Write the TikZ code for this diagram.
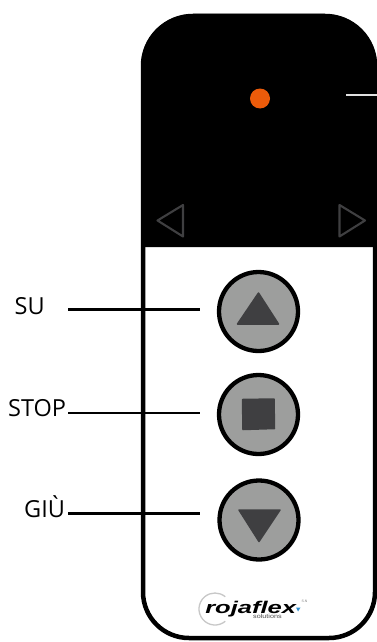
\documentclass[tikz,border=0pt]{standalone}
\usepackage{fontspec}
\setmainfont{Open Sans}
\newfontfamily\logofont{Liberation Sans}
\usetikzlibrary{positioning}
\definecolor{btngray}{HTML}{9D9E9D}
\definecolor{icondark}{HTML}{3F3F41}
\definecolor{ledorange}{HTML}{EC5B0A}
\definecolor{logoblue}{HTML}{2E8FD0}
\tikzset{
  btn/.style={circle, draw=black, line width=4.3pt, fill=btngray, minimum size=79pt, inner sep=0pt},
  lbl/.style={inner sep=0pt, font=\fontsize{23.5}{24}\selectfont},
  leader/.style={line width=2.4pt, black},
  icon/.style={fill=icondark, draw=icondark, line width=1.5pt, line join=round},
  arrowkey/.style={draw=icondark, line width=2.1pt, line join=round}
}
\begin{document}
\begin{tikzpicture}[x=1pt, y=-1pt]
\useasboundingbox (0,0) rectangle (377,642);

%%%%%%%%%%%% Body
\draw[line width=4.5pt, fill=white] (143,66) arc (180:270:50) -- (325,16)
  arc (-90:0:50) -- (375,592) arc (0:90:46) -- (189,638) arc (90:180:46) -- cycle;
\fill[black] (141,247) -- (141,66) arc (180:270:52) -- (325,14)
  arc (-90:0:52) -- (377,247) -- cycle;

%%%%%%%%%%%% Display
\node[circle, fill=ledorange, minimum size=20pt, inner sep=0pt] (led) at (260,98.5) {};
\coordinate (markstart) at (346,95.3);
\coordinate (markend) at (377,95.3);
\draw[line width=2pt, white!88!black] (markstart) -- (markend);
\draw[arrowkey] (183,205) -- (157.5,220.5) -- (183,236.5) -- cycle;
\draw[arrowkey] (339.5,205) -- (365,220.5) -- (339.5,236.5) -- cycle;

%%%%%%%%%%%% Buttons
\node[btn] (btnsu) at (258.5,311.5) {};
\node[btn] (btnstop) at (258.5,414.5) {};
\node[btn] (btngiu) at (259,520) {};
\draw[icon] (btnsu.center) ++(0,-18.5) -- ++(20,31) -- ++(-41,0) -- cycle;
\draw[icon] (242.5,399.5) -- (274,399) -- (274.5,428.5) -- (243,429.5) -- cycle;
\draw[icon] (btngiu.center) ++(0,21.5) -- ++(-20,-31.5) -- ++(41,0) -- cycle;

%%%%%%%%%%%% Labels
\node[lbl, anchor=base west] (lblsu) at (14.5,314) {SU};
\node[lbl, anchor=base west] (lblstop) at (8,416) {STOP};
\node[lbl, anchor=base west] (lblgiu) at (24,517) {GIÙ};
\foreach \name / \ypos in {su/309.5, stop/412.7, giu/513.5} {
  \coordinate (start\name) at (68,\ypos);
  \coordinate (end\name) at (200,\ypos);
  \draw[leader] (start\name) -- (end\name);
}

%%%%%%%%%%%% Logo
\draw[line width=1.3pt, black!22] (215,609) ++(50:16) arc (50:310:16);
\node[inner sep=0pt, anchor=base west, xscale=1.5] (logoname) at (205,613)
  {\logofont\fontsize{17}{17}\selectfont\bfseries\itshape\smash{rojaflex}};
\node[inner sep=0pt, anchor=base west, xscale=1.2, font=\logofont\fontsize{6}{6}\selectfont, black!70] (logosub) at (253,618.5) {solutions};
\node[inner sep=0pt, font=\logofont\fontsize{3.5}{4}\selectfont, black!50] (logomark) at (304.5,601.5) {S.N};
\fill[logoblue] (296,607.5) -- (300.5,607.5) -- (298,611.5) -- cycle;
\end{tikzpicture}
\end{document}
